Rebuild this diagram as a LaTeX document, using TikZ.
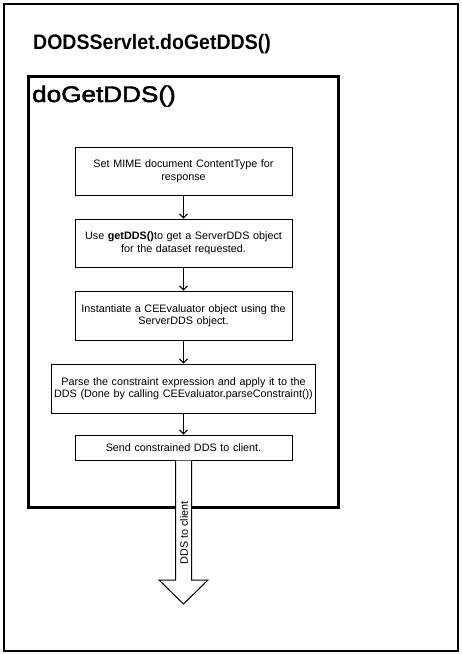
\documentclass[tikz,border=0pt]{standalone}
\usepackage{fontspec}
\setmainfont{Liberation Sans}
\newfontfamily\medfont[FakeBold=2]{Liberation Sans}
\usetikzlibrary{arrows.meta}
\begin{document}
\begin{tikzpicture}[x=1pt,y=-1pt,
  stepbox/.style={draw,line width=1pt,inner sep=0pt,align=center,
    font=\fontsize{10.8}{12.5}\selectfont},
  flow/.style={line width=1pt,-{Straight Barb[length=4pt,width=8pt]}},
  bigarrow/.style={draw,line width=1pt,fill=white},
  outerframe/.style={line width=2pt},
  innerframe/.style={line width=3pt}]
\useasboundingbox (0,0) rectangle (462,654);
\draw[outerframe] (4,4) rectangle (458,651);
\draw[innerframe] (28.5,76.5) rectangle (338.5,507.5);
\node[anchor=base west,inner sep=0pt,font=\bfseries\fontsize{21}{21}\selectfont] (title) at (33,49)
  {\scalebox{0.93}[1]{DODSServlet.doGetDDS()}};
\node[anchor=base west,inner sep=0pt,font=\medfont\fontsize{22.5}{22.5}\selectfont] (fn) at (32,102)
  {\scalebox{1.16}[1]{doGetDDS()}};
\node[stepbox,minimum width=217pt,text width=217pt,minimum height=48pt] (b1) at (183.5,171)
  {Set MIME document ContentType for\\response};
\node[stepbox,minimum width=217pt,text width=217pt,minimum height=48pt] (b2) at (183.5,243)
  {Use \textbf{getDDS()}to get a ServerDDS object\\for the dataset requested.};
\node[stepbox,minimum width=217pt,text width=217pt,minimum height=49pt] (b3) at (183.5,315.5)
  {Instantiate a CEEvaluator object using the\\ServerDDS object.};
\node[stepbox,minimum width=264pt,text width=264pt,minimum height=49pt] (b4) at (183.5,388.5)
  {Parse the constraint expression and apply it to the\\DDS (Done by calling CEEvaluator.parseConstraint())};
\node[stepbox,minimum width=217pt,text width=217pt,minimum height=25pt] (b5) at (183.5,447.5)
  {Send constrained DDS to client.};
\draw[flow] (b1.south) -- (b2.north);
\draw[flow] (b2.south) -- (b3.north);
\draw[flow] (b3.south) -- (b4.north);
\draw[flow] (b4.south) -- (b5.north);
\coordinate (tip) at (183.5,604);
\path[bigarrow] ([xshift=-8pt]b5.south) -- (175.5,580) -- (159,580) -- (tip) -- (208,580) -- (191.5,580) -- ([xshift=8pt]b5.south);
\node[rotate=90,inner sep=0pt,font=\fontsize{10.8}{12}\selectfont] (lbl) at (184,533) {DDS to client};
\end{tikzpicture}
\end{document}
